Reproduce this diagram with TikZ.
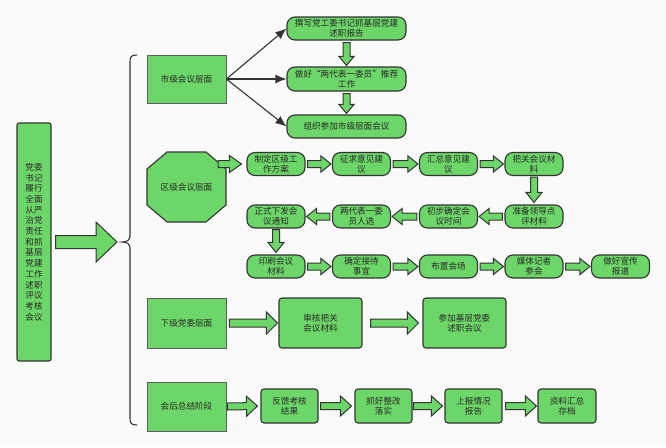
\documentclass[tikz,border=0pt]{standalone}
\usepackage{fontspec}
\setmainfont{Noto Sans CJK SC}
\usetikzlibrary{calc,arrows.meta}

\definecolor{boxgreen}{RGB}{109,214,104}
\definecolor{edge}{RGB}{51,51,51}
\definecolor{stageedge}{RGB}{95,95,95}
\definecolor{ink}{RGB}{40,40,40}
\definecolor{paper}{RGB}{250,250,250}

\tikzset{
  boxbase/.style={fill=boxgreen, text=ink, align=center, inner sep=1pt,
    font=\fontsize{8.6pt}{10.4pt}\selectfont},
  stagebox/.style={boxbase, rectangle, draw=stageedge, line width=0.8pt,
    minimum width=79pt, minimum height=49pt},
  stagepoly/.style={draw=edge, fill=boxgreen, line width=1.1pt},
  pill/.style={boxbase, draw=edge, line width=1.1pt, rounded corners=8pt,
    minimum width=58pt, minimum height=23pt},
  card/.style={boxbase, draw=edge, line width=1.1pt, rounded corners=3pt},
  bigarrow/.style={draw=edge, fill=boxgreen, line width=1pt, line join=miter},
  link/.style={draw=edge, line width=1.1pt, -{Latex[length=11pt,width=9pt]}},
}

% block arrow: start, end, half shaft, half head, head length
\newcommand{\fatarrow}[5]{%
  \path (#1) coordinate (fa s) (#2) coordinate (fa e);
  \path ($(fa e)!#5!(fa s)$) coordinate (fa h);
  \draw[bigarrow] ($(fa s)!#3!90:(fa e)$) -- ($(fa h)!#3!90:(fa e)$)
    -- ($(fa h)!#4!90:(fa e)$) -- (fa e) -- ($(fa h)!#4!-90:(fa e)$)
    -- ($(fa h)!#3!-90:(fa e)$) -- ($(fa s)!#3!-90:(fa e)$) -- cycle;}

\begin{document}
\begin{tikzpicture}[x=1pt, y=-1pt]
  \fill[paper] (0,0) rectangle (666,447);
  \useasboundingbox (0,0) rectangle (666,447);

  % meeting
  \node[card, rounded corners=2pt, minimum width=34pt, minimum height=238pt,
    font=\fontsize{8.6pt}{10.7pt}\selectfont] (lead) at (34,242)
    {党委\\书记\\履行\\全面\\从严\\治党\\责任\\和抓\\基层\\党建\\工作\\述职\\评议\\考核\\会议};
  \coordinate (brace) at (122,242);
  \fatarrow{[xshift=4pt]lead.east}{[xshift=-5pt]brace}{6.5pt}{20pt}{21pt}
  \draw[edge, line width=1.1pt] (137,55) .. controls (131,55) and (130,57) .. (130,62)
    -- (130,236) .. controls (130,240) and (127,242) .. (brace)
    .. controls (127,242) and (130,244) .. (130,248)
    -- (130,418) .. controls (130,423) and (131,425) .. (137,425);

  % city level
  \node[stagebox, minimum height=48pt] (shi) at (186.5,79) {市级会议层面};
  \node[pill, minimum width=119pt] (t1) at (346.5,28.5) {撰写党工委书记抓基层党建\\述职报告};
  \node[pill, minimum width=119pt, minimum height=24pt] (t2) at (346.5,79) {做好“两代表一委员”推荐\\工作};
  \node[pill, minimum width=119pt] (t3) at (346.5,126.5) {组织参加市级层面会议};
  \draw[link] (shi.east) -- (t1.west);
  \draw[link] (shi.east) -- (t2.west);
  \draw[link] (shi.east) -- (t3.west);
  \fatarrow{[yshift=-2pt]t1.south}{[yshift=1pt]t2.north}{3.5pt}{7.5pt}{9pt}
  \fatarrow{[yshift=-2pt]t2.south}{[yshift=1pt]t3.north}{3.5pt}{7.5pt}{9pt}

  % district level
  \draw[stagepoly] (167,152) -- (206,152) -- (226,169) -- (226,205)
    -- (206,222) -- (167,222) -- (147,205) -- (147,169) -- cycle;
  \node[boxbase, fill=none, minimum width=79pt, minimum height=70pt] (qu) at (186.5,187) {区级会议层面};

  \node[pill] (r11) at (276,164) {制定区级工\\作方案};
  \node[pill] (r12) at (361.5,164) {征求意见建\\议};
  \node[pill] (r13) at (448.5,164) {汇总意见建\\议};
  \node[pill] (r14) at (534,164) {把关会议材\\料};

  \node[pill] (r21) at (276,216.5) {正式下发会\\议通知};
  \node[pill] (r22) at (361.5,216.5) {两代表一委\\员人选};
  \node[pill] (r23) at (448.5,216.5) {初步确定会\\议时间};
  \node[pill] (r24) at (534,216.5) {准备领导点\\评材料};

  \node[pill] (r31) at (276,266.5) {印刷会议\\材料};
  \node[pill] (r32) at (361.5,266.5) {确定接待\\事宜};
  \node[pill] (r33) at (448.5,266.5) {布置会场};
  \node[pill] (r34) at (534,266.5) {媒体记者\\参会};
  \node[pill] (r35) at (620.5,266.5) {做好宣传\\报道};

  \fatarrow{[xshift=-8pt]qu.east |- r11.west}{[xshift=-5pt]r11.west}{3.5pt}{8.5pt}{12pt}
  \fatarrow{[xshift=2pt]r11.east}{[xshift=-1pt]r12.west}{3.5pt}{8pt}{10pt}
  \fatarrow{[xshift=2pt]r12.east}{[xshift=-1pt]r13.west}{3.5pt}{8pt}{10pt}
  \fatarrow{[xshift=2pt]r13.east}{[xshift=-1pt]r14.west}{3.5pt}{8pt}{10pt}
  \fatarrow{[yshift=-1pt]r14.south}{[yshift=2pt]r24.north}{3.5pt}{8pt}{10pt}
  \fatarrow{[xshift=-2pt]r24.west}{[xshift=1pt]r23.east}{3.5pt}{8pt}{10pt}
  \fatarrow{[xshift=-2pt]r23.west}{[xshift=1pt]r22.east}{3.5pt}{8pt}{10pt}
  \fatarrow{[xshift=-2pt]r22.west}{[xshift=1pt]r21.east}{3.5pt}{8pt}{10pt}
  \fatarrow{[yshift=-1pt]r21.south}{[yshift=2pt]r31.north}{3.5pt}{8pt}{10pt}
  \fatarrow{[xshift=2pt]r31.east}{[xshift=-1pt]r32.west}{3.5pt}{8pt}{10pt}
  \fatarrow{[xshift=2pt]r32.east}{[xshift=-1pt]r33.west}{3.5pt}{8pt}{10pt}
  \fatarrow{[xshift=2pt]r33.east}{[xshift=-1pt]r34.west}{3.5pt}{8pt}{10pt}
  \fatarrow{[xshift=2pt]r34.east}{[xshift=-1pt]r35.west}{3.5pt}{8pt}{10pt}

  % lower party committee level
  \node[stagebox, minimum height=50pt] (xia) at (186.5,323) {下级党委层面};
  \node[card, minimum width=83pt, minimum height=50pt] (x1) at (320.5,323) {审核把关\\会议材料};
  \node[card, minimum width=83pt, minimum height=50pt] (x2) at (464.5,323) {参加基层党委\\述职会议};
  \fatarrow{[xshift=3pt]xia.east}{[xshift=-1pt]x1.west}{4pt}{11pt}{11pt}
  \fatarrow{[xshift=8pt]x1.east}{[xshift=-4pt]x2.west}{4pt}{11pt}{11pt}

  % after the meeting
  \node[stagebox] (hou) at (186.5,406.5) {会后总结阶段};
  \node[card, minimum width=57pt, minimum height=34pt] (h1) at (289.5,406) {反馈考核\\结果};
  \node[card, minimum width=57pt, minimum height=34pt] (h2) at (383.5,406) {抓好整改\\落实};
  \node[card, minimum width=57pt, minimum height=34pt] (h3) at (473.5,406) {上报情况\\报告};
  \node[card, minimum width=58pt, minimum height=34pt] (h4) at (567,406) {资料汇总\\存档};
  \fatarrow{[xshift=1pt]hou.east}{[xshift=-3pt]h1.west}{3.5pt}{10pt}{11pt}
  \fatarrow{[xshift=2pt]h1.east}{[xshift=-3pt]h2.west}{3.5pt}{10pt}{11pt}
  \fatarrow{[xshift=1pt]h2.east}{[xshift=-2pt]h3.west}{3.5pt}{10pt}{11pt}
  \fatarrow{[xshift=3pt]h3.east}{[xshift=-1pt]h4.west}{3.5pt}{10pt}{11pt}
\end{tikzpicture}
\end{document}
